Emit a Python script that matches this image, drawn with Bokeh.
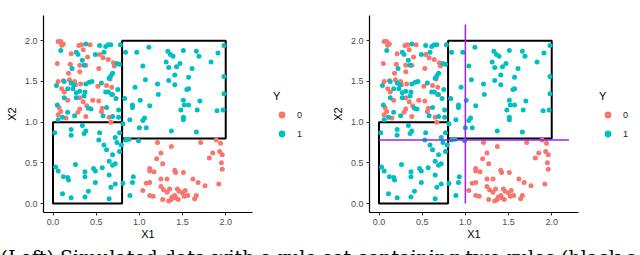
from bokeh.plotting import figure
from bokeh.models import Range1d, FixedTicker, NumeralTickFormatter, Legend, LegendItem, Label
from bokeh.layouts import column, row
from bokeh.embed import file_html
from bokeh.resources import INLINE

# ---------------- data ----------------
# class Y = 0 (red)
class0_x1 = [0.06, 0.09, 0.12, 0.10, 0.05, 0.21, 0.30, 0.33, 0.43, 0.35,
             0.40, 0.20, 0.31, 0.38, 0.18, 0.31, 0.06, 0.12, 0.19, 0.25,
             0.26, 0.32, 0.10, 0.13, 0.35, 0.46, 0.53, 0.07, 0.09, 0.06,
             0.31, 0.29, 0.38, 0.39, 0.56, 0.65, 0.54, 0.58, 0.64, 0.70,
             0.71, 0.53, 0.66, 0.52, 0.62, 0.69, 0.31, 0.67, 0.57, 0.68,
             0.15, 0.17,
             1.21, 1.37, 1.25, 1.20, 1.27, 1.12, 1.12, 1.17, 1.41, 1.42,
             1.51, 1.71, 1.89, 1.93, 1.96, 1.81, 1.85, 1.95, 1.96, 1.25,
             1.32, 1.12, 1.08, 1.62, 1.68, 1.76, 1.92, 1.04, 1.12, 1.16,
             1.25, 1.28, 1.32, 1.35, 1.44, 1.46, 1.50, 1.53, 1.56, 1.52,
             1.41, 1.42, 1.37, 1.34, 1.45, 1.27, 1.64, 1.66, 1.38, 1.94]
class0_x2 = [1.99, 1.99, 1.96, 1.94, 1.72, 1.84, 1.94, 1.95, 1.95, 1.89,
             1.80, 1.71, 1.70, 1.70, 1.60, 1.62, 1.50, 1.51, 1.52, 1.50,
             1.46, 1.47, 1.41, 1.37, 1.25, 1.27, 1.26, 1.18, 1.13, 1.09,
             1.16, 1.12, 1.07, 1.20, 1.13, 1.06, 1.83, 1.79, 1.77, 1.73,
             1.69, 1.66, 1.53, 1.44, 1.45, 1.34, 1.30, 1.00, 1.17, 1.43,
             1.05, 1.27,
             0.75, 0.70, 0.62, 0.55, 0.49, 0.43, 0.40, 0.39, 0.41, 0.38,
             0.38, 0.75, 0.78, 0.64, 0.60, 0.56, 0.62, 0.50, 0.42, 0.30,
             0.30, 0.26, 0.25, 0.30, 0.26, 0.22, 0.24, 0.16, 0.10, 0.09,
             0.21, 0.17, 0.14, 0.18, 0.18, 0.15, 0.13, 0.16, 0.10, 0.09,
             0.10, 0.07, 0.05, 0.03, 0.05, 0.05, 0.06, 0.10, 0.08, 0.74]

# class Y = 1 (teal)
class1_x1 = [0.09, 0.27, 0.29, 0.34, 0.38, 0.54, 0.61, 0.64, 0.67, 0.78,
             0.49, 0.59, 0.74, 0.77, 0.36, 0.22, 0.69, 0.67, 0.65, 0.13,
             0.21, 0.24, 0.38, 0.42, 0.45, 0.56, 0.04, 0.17, 0.23, 0.27,
             0.31, 0.37, 0.13, 0.27, 0.36, 0.61, 0.64, 0.68, 0.73, 0.75,
             0.05, 0.17, 0.41, 0.44, 0.62, 0.76, 0.11, 0.25, 0.06, 0.58,
             0.69, 0.76,
             0.84, 0.97, 1.11, 1.33, 1.36, 1.39, 1.51, 1.66, 1.69, 1.83,
             1.91, 1.98, 1.31, 1.43, 1.34, 1.47, 1.04, 1.61, 1.41, 1.07,
             1.21, 1.34, 1.41, 1.57, 1.55, 1.57, 1.98, 0.95, 1.22, 0.83,
             1.01, 1.12, 1.51, 1.70, 1.52, 1.48, 1.67, 1.90, 1.97, 1.98,
             0.92, 0.92, 1.06, 0.89, 1.04, 1.51, 1.51, 1.00, 1.08, 1.37,
             1.66, 0.81, 1.57,
             0.02, 0.21, 0.21, 0.34, 0.36, 0.38, 0.54, 0.53, 0.59, 0.62,
             0.69, 0.72, 0.74, 0.77, 0.77, 0.79, 0.65, 0.69, 0.72, 0.26,
             0.03, 0.06, 0.12, 0.17, 0.18, 0.37, 0.37, 0.47, 0.49, 0.57,
             0.65, 0.49, 0.72, 0.67, 0.41, 0.37, 0.11, 0.21, 0.65,
             0.81, 0.89, 0.93, 0.92, 0.84, 0.88, 0.99]
class1_x2 = [1.88, 1.86, 1.83, 1.76, 1.96, 1.94, 1.93, 1.95, 1.95, 1.95,
             1.83, 1.86, 1.72, 1.71, 1.70, 1.66, 1.60, 1.57, 1.54, 1.50,
             1.48, 1.46, 1.47, 1.49, 1.50, 1.48, 1.45, 1.41, 1.41, 1.36,
             1.38, 1.37, 1.30, 1.30, 1.32, 1.37, 1.37, 1.34, 1.29, 1.40,
             1.21, 1.12, 1.17, 1.16, 1.18, 1.15, 1.06, 1.08, 1.03, 1.08,
             1.07, 1.06,
             1.86, 1.86, 1.92, 1.87, 1.83, 1.81, 1.88, 1.87, 1.81, 1.74,
             1.85, 1.94, 1.74, 1.68, 1.67, 1.72, 1.69, 1.66, 1.58, 1.52,
             1.47, 1.51, 1.46, 1.55, 1.40, 1.41, 1.56, 1.43, 1.34, 1.29,
             1.27, 1.20, 1.27, 1.26, 1.21, 1.15, 1.15, 1.14, 1.15, 1.35,
             1.21, 1.18, 1.05, 1.03, 1.02, 1.06, 1.03, 0.93, 0.93, 0.89,
             0.88, 0.98, 1.21,
             0.87, 0.91, 0.84, 0.96, 0.86, 0.89, 0.87, 0.78, 0.72, 0.66,
             0.60, 0.81, 0.75, 0.87, 0.64, 0.72, 0.52, 0.47, 0.49, 0.48,
             0.45, 0.40, 0.33, 0.32, 0.29, 0.39, 0.33, 0.43, 0.40, 0.44,
             0.35, 0.26, 0.24, 0.20, 0.15, 0.08, 0.12, 0.07, 0.06,
             0.25, 0.10, 0.33, 0.26, 0.78, 0.79, 0.77]

# rule set (black rectangles)
rule_x1_min = [0.0, 0.8]
rule_x1_max = [0.8, 2.0]
rule_x2_min = [0.0, 0.8]
rule_x2_max = [1.0, 2.0]

# tree splits (purple lines, right panel)
vsplit_x1 = [1.0]
vsplit_x2_from = [0.0]
vsplit_x2_to = [2.2]
hsplit_x2 = [0.78]
hsplit_x1_from = [0.0]
hsplit_x1_to = [2.2]

tick_values = [0.0, 0.5, 1.0, 1.5, 2.0]
legend_labels = ["0", "1"]
caption = "(Left) Simulated data with a rule set containing two rules (black a"

RED = "#F8766D"
TEAL = "#00BFC4"
FONT = "Liberation Sans"
PANEL_H = 242


def make_panel(with_splits):
    p = figure(width=258, height=PANEL_H, toolbar_location=None, output_backend="svg",
               x_range=Range1d(-0.11, 2.31), y_range=Range1d(-0.11, 2.31),
               min_border_left=43, min_border_right=6,
               min_border_top=15, min_border_bottom=27,
               outline_line_color=None, background_fill_color="white")
    p.grid.visible = False
    p.quad(left=rule_x1_min, right=rule_x1_max, bottom=rule_x2_min, top=rule_x2_max,
           fill_color=None, line_color="black", line_width=2)
    p.scatter(class0_x1, class0_x2, size=5, color=RED, line_color=None)
    p.scatter(class1_x1, class1_x2, size=5, color=TEAL, line_color=None)
    if with_splits:
        p.segment(x0=vsplit_x1, y0=vsplit_x2_from, x1=vsplit_x1, y1=vsplit_x2_to,
                  line_color="#A020F0", line_width=1.5)
        p.segment(x0=hsplit_x1_from, y0=hsplit_x2, x1=hsplit_x1_to, y1=hsplit_x2,
                  line_color="#A020F0", line_width=1.5)
    for ax in (p.xaxis[0], p.yaxis[0]):
        ax.ticker = FixedTicker(ticks=tick_values)
        ax.formatter = NumeralTickFormatter(format="0.0")
        ax.axis_line_color = "black"
        ax.axis_line_width = 1.2
        ax.major_tick_line_color = "#333333"
        ax.major_tick_out = 3
        ax.major_tick_in = 0
        ax.minor_tick_line_color = None
        ax.major_label_text_font = FONT
        ax.major_label_text_font_size = "9px"
        ax.major_label_text_color = "#4D4D4D"
        ax.axis_label_text_font = FONT
        ax.axis_label_text_font_size = "11px"
        ax.axis_label_text_font_style = "normal"
        ax.axis_label_text_color = "black"
    p.xaxis.axis_label = "X1"
    p.yaxis.axis_label = "X2"
    p.xaxis.major_label_standoff = 3
    p.xaxis.axis_label_standoff = 0
    p.yaxis.major_label_standoff = 3
    p.yaxis.axis_label_standoff = 4
    return p


def make_legend(width):
    # the class points sit outside this figure's ranges, so only the legend shows
    lf = figure(width=width, height=PANEL_H, toolbar_location=None, output_backend="svg",
                x_range=Range1d(10, 11), y_range=Range1d(10, 11),
                min_border=0, outline_line_color=None)
    lf.axis.visible = False
    lf.grid.visible = False
    g0 = lf.scatter(class0_x1, class0_x2, size=5, color=RED, line_color=None)
    g1 = lf.scatter(class1_x1, class1_x2, size=5, color=TEAL, line_color=None)
    legend = Legend(items=[LegendItem(label=legend_labels[0], renderers=[g0]),
                           LegendItem(label=legend_labels[1], renderers=[g1])],
                    title="Y", location=(15, 70), orientation="vertical",
                    padding=0, margin=0, spacing=2,
                    glyph_width=17, glyph_height=17, label_standoff=7,
                    title_standoff=4,
                    title_text_font=FONT, title_text_font_size="11px",
                    title_text_font_style="normal", title_text_color="black",
                    label_text_font=FONT, label_text_font_size="9px",
                    label_text_color="#222222",
                    border_line_color=None, background_fill_alpha=0)
    lf.add_layout(legend)
    return lf


left = make_panel(False)
left_legend = make_legend(68)
right = make_panel(True)
right_legend = make_legend(56)

cap = figure(width=640, height=255 - PANEL_H, toolbar_location=None, output_backend="svg",
             x_range=Range1d(0, 1), y_range=Range1d(0, 1),
             min_border=0, outline_line_color=None)
cap.axis.visible = False
cap.grid.visible = False
cap.add_layout(Label(x=0, y=10, x_units="screen", y_units="screen", text=caption,
                     text_font="DejaVu Serif", text_font_size="19px",
                     text_baseline="top", text_color="black"))

layout = column(row(left, left_legend, right, right_legend), cap)
open("out.html", "w").write(file_html(layout, INLINE))
